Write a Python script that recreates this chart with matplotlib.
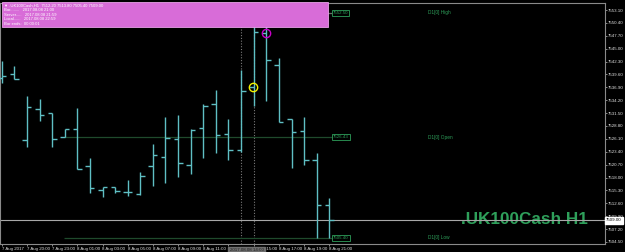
import numpy as np
import matplotlib as mpl
mpl.use('Agg')
import matplotlib.pyplot as plt
from matplotlib.patches import Rectangle

# hourly bars, 7 Aug 2017 18:00 .. 8 Aug 2017 21:00
bar_open = [7538.85, 7539.69, 7525.86, 7532.36, 7531.46, 7526.43, 7528.17, 7520.36, 7515.45,
            7516.02, 7515.03, 7514.49, 7520.42, 7522.24, 7526.01, 7520.69, 7528.32, 7533.34,
            7527.12, 7523.77, 7537.03, 7548.22, 7541.51, 7530.20, 7527.75, 7521.68, 7512.20]
bar_high = [7542.42, 7541.43, 7535.08, 7534.46, 7531.46, 7528.11, 7532.51, 7522.10, 7516.08,
            7516.08, 7517.49, 7519.16, 7525.09, 7530.62, 7531.04, 7528.17, 7533.34, 7536.34,
            7530.20, 7540.53, 7552.50, 7551.42, 7543.04, 7530.27, 7530.68, 7523.14, 7513.80]
bar_low = [7537.87, 7538.64, 7524.46, 7529.85, 7524.46, 7526.43, 7519.73, 7514.83, 7513.86,
           7514.70, 7514.13, 7514.40, 7516.29, 7516.86, 7518.05, 7518.68, 7522.16, 7523.14,
           7521.68, 7523.35, 7533.05, 7534.10, 7529.70, 7520.00, 7520.63, 7505.40, 7505.40]
bar_close = [7539.21, 7538.64, 7532.78, 7531.10, 7526.07, 7528.11, 7519.73, 7515.75, 7516.08,
             7515.12, 7515.03, 7518.39, 7522.79, 7526.28, 7520.98, 7528.02, 7533.05, 7526.91,
             7523.77, 7536.13, 7548.43, 7542.56, 7529.70, 7527.61, 7521.68, 7512.25, 7509.00]

time_labels = ["7 Aug 2017", "7 Aug 20:00", "7 Aug 23:00", "8 Aug 01:00", "8 Aug 03:00",
               "8 Aug 05:00", "8 Aug 07:00", "8 Aug 09:00", "8 Aug 11:00", "8 Aug 13:00",
               "8 Aug 15:00", "8 Aug 17:00", "8 Aug 19:00", "8 Aug 21:00"]
price_ticks = [7553.10, 7550.40, 7547.70, 7545.00, 7542.30, 7539.60, 7536.90, 7534.20, 7531.50,
               7528.80, 7526.10, 7523.40, 7520.70, 7518.00, 7515.30, 7512.60, 7509.90, 7507.20,
               7504.50]

d1_names = ["D1[0] High", "D1[0] Open", "D1[0] Low"]
d1_values = [7552.50, 7526.43, 7505.40]

info_lines = [".UK100Cash,H1  7512.20 7513.80 7505.40 7509.00",
              "Bar........   2017.08.08 21:00",
              "Server.....   2017.08.08 21:59",
              "Local......   2017.08.08 22:59",
              "Bar ends:  00:00:01"]

bar_color = '#5fbfc4'
green = '#2e9f5a'
plt.rcParams['font.family'] = ['Liberation Sans', 'DejaVu Sans']

fig = plt.figure(figsize=(6.25, 2.52), dpi=100, facecolor='black')
ax = fig.add_axes([0, 8/252, 605/625, 241/252], facecolor='black')

n = len(bar_open)
x = np.arange(n)
tick = 0.36
ax.vlines(x, bar_low, bar_high, color=bar_color, lw=1.0, zorder=3)
ax.hlines(bar_open, x - tick, x, color=bar_color, lw=1.0, zorder=3)
ax.hlines(bar_close, x, x + tick, color=bar_color, lw=1.0, zorder=3)

xmin = -1.7/12.6
ax.set_xlim(xmin, xmin + 605/12.6)
ax.set_ylim(7504.07, 7554.57)

# current price line
last = bar_close[-1]
ax.axhline(last, color='#a8a8a8', lw=0.8, zorder=2)
ax.text(1.002, last, "%.2f" % last, transform=ax.get_yaxis_transform(), fontsize=3.2,
        color='black', va='center', ha='left', clip_on=False, zorder=6,
        bbox=dict(boxstyle='square,pad=0.25', facecolor='white', edgecolor='white'))

# vertical dotted lines
for i in [19, 20]:
    ax.axvline(i, color='#7a7a7a', lw=0.8, ls=(0, (1, 1.5)), zorder=2)

# D1 levels
d1_colors = ['#6a6a6a', '#1f4a2c', '#1f4a2c']
for name, val, c in zip(d1_names, d1_values, d1_colors):
    ax.hlines(val, 4.95, 26.2, color=c, lw=0.9, zorder=2)
    ax.text(26.3, val, "%.2f" % val, fontsize=3.2, color=green, va='center', ha='left',
            zorder=5, bbox=dict(boxstyle='square,pad=0.2', facecolor='black',
                                edgecolor=green, lw=0.6))
    ax.text(33.8, val, name, fontsize=3.4, color=green, va='center', ha='left', zorder=5)

# markers
ax.plot(19.95, bar_open[20], 'o', ms=6, mfc='none', mec='#f2f200', mew=1.0, zorder=4)
ax.plot(21, bar_open[21], 'o', ms=6, mfc='none', mec='#c800c8', mew=1.0, zorder=4)

# info box
ax.add_patch(Rectangle((2/605, (244-27)/241), 326/605, 25/241, transform=ax.transAxes,
                       facecolor='#d86cd8', edgecolor='#e8a0e8', lw=0.6, zorder=7,
                       clip_on=False))
for k, line in enumerate(info_lines):
    ax.text(4/605, (244-5.2-4.7*k)/241, ("\u25bc " if k == 0 else "") + line,
            transform=ax.transAxes, fontsize=3.0, color='white', va='center', ha='left',
            zorder=8, clip_on=False)

# watermark
ax.text(588/605, (244-224.3)/241, ".UK100Cash H1", transform=ax.transAxes, fontsize=12.3,
        fontweight='bold', color=green, ha='right', va='baseline', zorder=1)

# axes styling
ax.yaxis.tick_right()
ax.set_yticks(price_ticks)
ax.set_yticklabels(["%.2f" % v for v in price_ticks])
ax.tick_params(axis='y', colors='#a0a0a0', labelcolor='#e0e0e0', labelsize=3.2,
               length=1.5, width=0.6, pad=0.8)
ax.set_xticks(x[::2])
ax.set_xticklabels(time_labels, ha='left')
ax.tick_params(axis='x', colors='#a0a0a0', labelcolor='#e0e0e0', labelsize=3.2,
               length=1.5, width=0.6, pad=0.8)
for s in ax.spines.values():
    s.set_color('#8a8a8a')
    s.set_linewidth(0.8)

# highlighted time label of the vertical line
ax.text(19.45, -0.018, "2017.08.08 14:00", transform=ax.get_xaxis_transform(), fontsize=3.2,
        color='#202020', ha='center', va='top', zorder=9, clip_on=False,
        bbox=dict(boxstyle='square,pad=0.3', facecolor='#6e6e6e', edgecolor='#6e6e6e'))

fig.savefig('out.png', dpi=100, facecolor='black')
